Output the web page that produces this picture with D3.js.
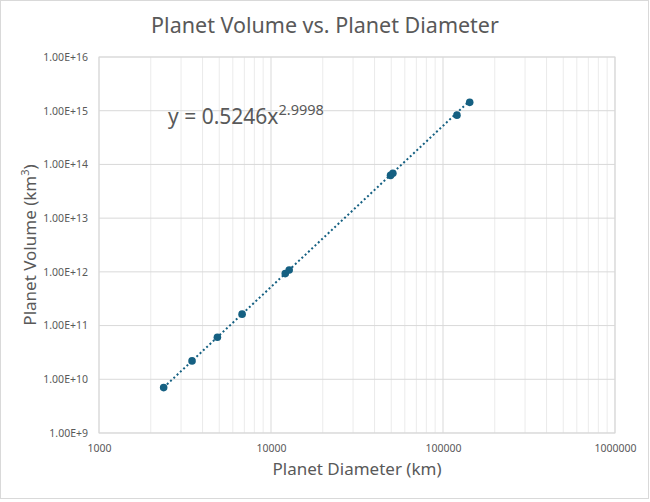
<!DOCTYPE html>
<html>
<head>
<meta charset="utf-8">
<script src="https://cdn.jsdelivr.net/npm/d3@7"></script>
<style>
  body { margin: 0; background: #fff; }
  text { font-family: "Noto Sans", "Open Sans", sans-serif; fill: #595959; }
</style>
</head>
<body>
<div id="chart"></div>
<script>
var svgWidth = 650;
var svgHeight = 502;

// plot area inside the chart
var margin = { top: 57, right: 35, bottom: 69, left: 99 };
var width = 615 - margin.left;
var height = 433 - margin.top;

// planet diameters (km) and volumes (km^3)
var diameters = [2376, 3475, 4879, 6792, 12104, 12756, 49528, 51118, 120536, 142984];
var volumes = [7.0e9, 2.2e10, 6.08e10, 1.63e11, 9.28e11, 1.08e12, 6.25e13, 6.83e13, 8.27e14, 1.43e15];

// power trendline y = a * x^b
var fitA = 0.5246;
var fitB = 2.9998;

var xTicks = [1000, 10000, 100000, 1000000];
var yTicks = [1e9, 1e10, 1e11, 1e12, 1e13, 1e14, 1e15, 1e16];

var color = "#156082";

var svg = d3.select("#chart")
  .append("svg")
  .attr("width", svgWidth)
  .attr("height", svgHeight);

// outer chart border
svg.append("rect")
  .attr("x", 0.5)
  .attr("y", 0.5)
  .attr("width", 648)
  .attr("height", 498)
  .attr("fill", "#fff")
  .attr("stroke", "#d9d9d9");

var chartGroup = svg.append("g")
  .attr("transform", `translate(${margin.left}, ${margin.top})`);

var xScale = d3.scaleLog()
  .domain([1000, 1000000])
  .range([0, width]);

var yScale = d3.scaleLog()
  .domain([1e9, 1e16])
  .range([height, 0]);

// minor vertical gridlines (2..9 of each decade)
var minorX = xScale.ticks().filter(d => xTicks.indexOf(d) < 0);
chartGroup.selectAll(".minorX")
  .data(minorX)
  .enter()
  .append("line")
  .attr("x1", d => xScale(d))
  .attr("x2", d => xScale(d))
  .attr("y1", 0)
  .attr("y2", height)
  .attr("stroke", "#ebebeb")
  .attr("stroke-width", 1);

// major gridlines
chartGroup.selectAll(".majorX")
  .data(xTicks)
  .enter()
  .append("line")
  .attr("x1", d => xScale(d))
  .attr("x2", d => xScale(d))
  .attr("y1", 0)
  .attr("y2", height)
  .attr("stroke", "#d9d9d9");

chartGroup.selectAll(".majorY")
  .data(yTicks)
  .enter()
  .append("line")
  .attr("x1", 0)
  .attr("x2", width)
  .attr("y1", d => yScale(d))
  .attr("y2", d => yScale(d))
  .attr("stroke", "#d9d9d9");

// plot border
chartGroup.append("rect")
  .attr("width", width)
  .attr("height", height)
  .attr("fill", "none")
  .attr("stroke", "#d9d9d9");

// axes (labels only, Excel style)
var bottomAxis = d3.axisBottom(xScale)
  .tickValues(xTicks)
  .tickFormat(d3.format("d"))
  .tickSize(0)
  .tickPadding(12);

var leftAxis = d3.axisLeft(yScale)
  .tickValues(yTicks)
  .tickFormat(d => "1.00E+" + Math.round(Math.log10(d)))
  .tickSize(0)
  .tickPadding(11);

var xAxis = chartGroup.append("g")
  .attr("transform", `translate(0, ${height})`)
  .call(bottomAxis);

var yAxis = chartGroup.append("g")
  .call(leftAxis);

[xAxis, yAxis].forEach(function (ax) {
  ax.select(".domain").remove();
  ax.selectAll("text")
    .attr("font-size", "10.5px")
    .style("font-family", "'Noto Sans', sans-serif")
    .attr("fill", "#595959");
});

// trendline from first to last diameter
var xMin = d3.min(diameters);
var xMax = d3.max(diameters);
var trendLine = d3.line()
  .x(d => xScale(d))
  .y(d => yScale(fitA * Math.pow(d, fitB)));

chartGroup.append("path")
  .datum([xMin, xMax])
  .attr("d", trendLine)
  .attr("fill", "none")
  .attr("stroke", color)
  .attr("stroke-width", 2)
  .attr("stroke-dasharray", "2,2.5");

// points
chartGroup.selectAll("circle")
  .data(diameters)
  .enter()
  .append("circle")
  .attr("cx", d => xScale(d))
  .attr("cy", (d, i) => yScale(volumes[i]))
  .attr("r", 3.8)
  .attr("fill", color);

// equation label
var eq = svg.append("text")
  .attr("x", 168)
  .attr("y", 124)
  .attr("font-size", "21px")
  .attr("fill", "#404040");
eq.append("tspan").text("y = " + fitA + "x");
eq.append("tspan")
  .attr("dy", -9)
  .attr("font-size", "14.5px")
  .text(fitB.toFixed(4));

// title
svg.append("text")
  .attr("x", svgWidth / 2)
  .attr("y", 33)
  .attr("text-anchor", "middle")
  .attr("font-size", "21.5px")
  .text("Planet Volume vs. Planet Diameter");

// x axis label
svg.append("text")
  .attr("x", margin.left + width / 2)
  .attr("y", 475)
  .attr("text-anchor", "middle")
  .attr("font-size", "17px")
  .text("Planet Diameter (km)");

// y axis label
var yLabel = svg.append("text")
  .attr("transform", `translate(36, ${margin.top + height / 2}) rotate(-90)`)
  .attr("text-anchor", "middle")
  .attr("font-size", "17px");
yLabel.append("tspan").text("Planet Volume (km");
yLabel.append("tspan").attr("dy", -7).attr("font-size", "11px").text("3");
yLabel.append("tspan").attr("dy", 7).text(")");
</script>
</body>
</html>
